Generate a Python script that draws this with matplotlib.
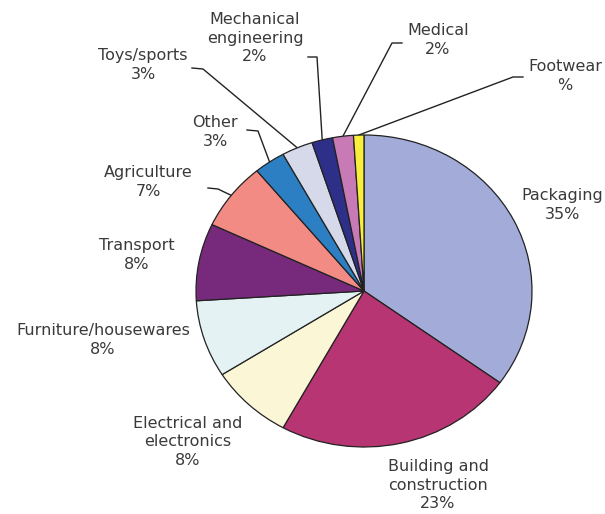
import numpy as np
import matplotlib.pyplot as plt

# sectors, clockwise from 12 o'clock
sectors = ["Packaging", "Building and\nconstruction", "Electrical and\nelectronics",
           "Furniture/housewares", "Transport", "Agriculture", "Other",
           "Toys/sports", "Mechanical\nengineering", "Medical", "Footwear"]
shares = [35, 23, 8, 8, 8, 7, 3, 3, 2, 2, 1]
share_labels = ["35%", "23%", "8%", "8%", "8%", "7%", "3%", "3%", "2%", "2%", "%"]
colors = ["#a3acd9", "#b63572", "#fbf7d6", "#e4f2f3", "#772a7b", "#f28b84",
          "#2b7fc2", "#d5d9ea", "#2d2f89", "#c77ab5", "#f7ef3c"]

# label centres in pixels (x, y from top)
label_pos = [(562, 205), (438, 485), (188, 442), (103, 340), (137, 255),
             (148, 182), (215, 132), (143, 65), (255, 38), (438, 40), (565, 76)]
# leader lines: index -> (text end, elbow)
leaders = {5: [(208, 188), (218, 189)],
           6: [(247, 130), (258, 131)],
           7: [(192, 68), (203, 69)],
           8: [(308, 57), (317, 57)],
           9: [(402, 43), (392, 43)],
           10: [(523, 77), (513, 77)]}

W, H = 605, 514
cx, cy, rx, ry = 364, 291, 168, 156

fig = plt.figure(figsize=(W / 100, H / 100), dpi=100)
bg = fig.add_axes([0, 0, 1, 1])
bg.set_xlim(0, W)
bg.set_ylim(H, 0)
bg.axis("off")

pie_ax = fig.add_axes([(cx - rx) / W, (H - cy - ry) / H, 2 * rx / W, 2 * ry / H])
wedges, _ = pie_ax.pie(shares, colors=colors, startangle=90, counterclock=False,
                       wedgeprops=dict(edgecolor="#222222", linewidth=0.9))
pie_ax.set_aspect("auto")
pie_ax.set_xlim(-1, 1)
pie_ax.set_ylim(-1, 1)
pie_ax.axis("off")

for i, (name, pct) in enumerate(zip(sectors, share_labels)):
    x, y = label_pos[i]
    bg.text(x, y, f"{name}\n{pct}", ha="center", va="center", fontsize=11.5,
            color="#3a3a3a", linespacing=1.3)
    if i in leaders:
        w = wedges[i]
        mid = np.deg2rad((w.theta1 + w.theta2) / 2)
        ex = cx + rx * np.cos(mid)
        ey = cy - ry * np.sin(mid)
        pts = leaders[i] + [(ex, ey)]
        bg.plot([p[0] for p in pts], [p[1] for p in pts], color="#222222", lw=1.0)

fig.savefig("out.png", dpi=100)
